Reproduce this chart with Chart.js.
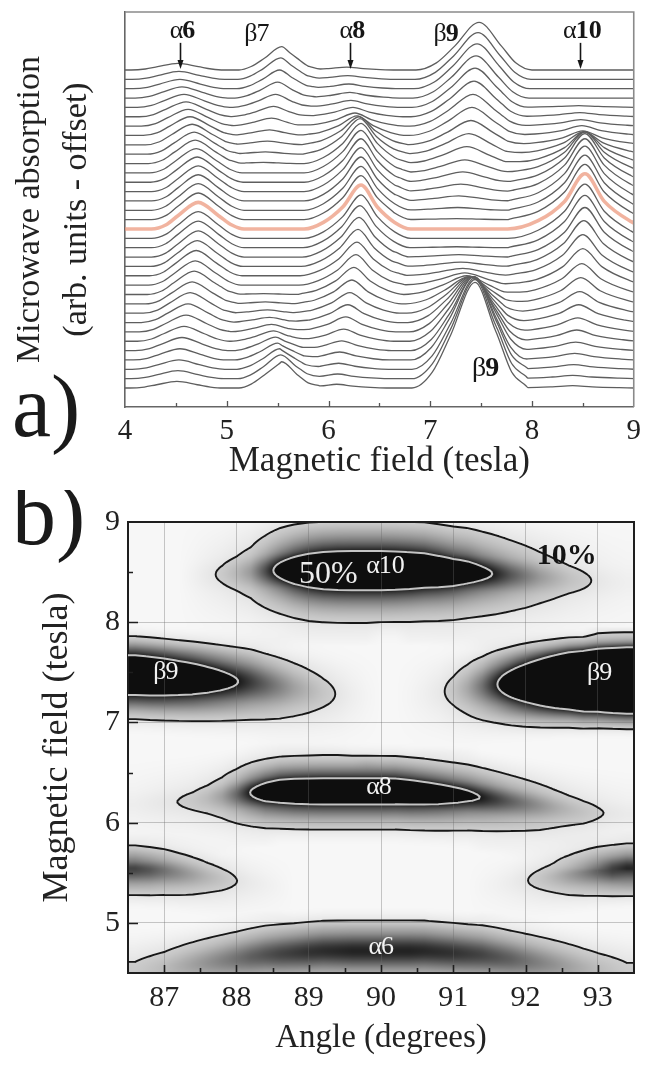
<!DOCTYPE html>
<html>
<head>
<meta charset="utf-8">
<script src="https://cdn.jsdelivr.net/npm/chart.js@4.4.1/dist/chart.umd.min.js"></script>
<style>
  html, body { margin: 0; padding: 0; background: #fff; }
  #page { position: relative; width: 648px; height: 1065px; overflow: hidden; background: #fff; }
  #spectraBox { position: absolute; left: 0; top: 0; width: 648px; height: 490px; }
  #mapBox { position: absolute; left: 0; top: 490px; width: 648px; height: 575px; }
  canvas { display: block; }
</style>
</head>
<body>
<div id="page">
  <div id="spectraBox"><canvas id="spectra" width="648" height="490"></canvas></div>
  <div id="mapBox"><canvas id="map" width="648" height="575"></canvas></div>
</div>
<script>
// ---------------------------------------------------------------------------
// Angular dependence of the microwave absorption spectra.
// One spectrum per sample orientation; each spectrum is described by the
// field position and height of its five resonance lines.
// ---------------------------------------------------------------------------
const SERIF = "'Liberation Serif', 'Times New Roman', serif";

// orientation of each spectrum (degrees), top trace first
const angles = [86.6, 86.8, 87.0, 87.2, 87.4, 87.6, 87.8, 88.0, 88.2, 88.4,
                88.6, 88.8, 89.0, 89.2, 89.4, 89.6, 89.8, 90.0, 90.2, 90.4,
                90.6, 90.8, 91.0, 91.2, 91.4, 91.6, 91.8, 92.0, 92.2, 92.4,
                92.6, 92.8, 93.0, 93.2, 93.4];
const highlightAngle = 90.0;

// alpha-6 line
const alpha6Center = [4.52, 4.53, 4.54, 4.56, 4.58, 4.60, 4.62, 4.64, 4.66, 4.68,
                      4.69, 4.70, 4.71, 4.72, 4.72, 4.72, 4.72, 4.72, 4.72, 4.72,
                      4.72, 4.71, 4.70, 4.69, 4.68, 4.66, 4.64, 4.62, 4.60, 4.58,
                      4.56, 4.54, 4.53, 4.52, 4.51];
const alpha6Height = [0.7, 0.85, 1.0, 1.2, 1.4, 1.6, 1.8, 2.0, 2.2, 2.35,
                      2.5, 2.6, 2.7, 2.75, 2.8, 2.85, 2.85, 2.85, 2.85, 2.85,
                      2.8, 2.75, 2.7, 2.6, 2.5, 2.35, 2.2, 2.0, 1.8, 1.6,
                      1.4, 1.2, 1.0, 0.85, 0.7];

// beta-7 line
const beta7Center = [5.54, 5.53, 5.52, 5.50, 5.48, 5.46, 5.44, 5.42, 5.40, 5.38,
                     5.36, 5.35, 5.35, 5.35, 5.35, 5.35, 5.35, 5.35, 5.35, 5.35,
                     5.35, 5.35, 5.35, 5.35, 5.36, 5.38, 5.40, 5.42, 5.44, 5.46,
                     5.48, 5.50, 5.52, 5.53, 5.54];
const beta7Height = [2.5, 2.3, 2.0, 1.7, 1.4, 1.1, 0.85, 0.6, 0.4, 0.25,
                     0.12, 0, 0, 0, 0, 0, 0, 0, 0, 0,
                     0, 0, 0, 0, 0.1, 0.2, 0.35, 0.55, 0.8, 1.1,
                     1.45, 1.8, 2.2, 2.55, 2.8];

// alpha-8 line
const alpha8Center = [6.18, 6.19, 6.20, 6.21, 6.22, 6.24, 6.26, 6.28, 6.30, 6.31,
                      6.32, 6.32, 6.32, 6.32, 6.32, 6.32, 6.32, 6.32, 6.32, 6.31,
                      6.30, 6.29, 6.28, 6.27, 6.25, 6.23, 6.21, 6.19, 6.17, 6.15,
                      6.13, 6.11, 6.10, 6.09, 6.08];
const alpha8Height = [0.3, 0.4, 0.5, 0.6, 0.75, 1.0, 1.4, 2.1, 3.0, 3.8,
                      4.3, 4.55, 4.65, 4.7, 4.7, 4.7, 4.7, 4.7, 4.65, 4.5,
                      4.25, 3.95, 3.6, 3.25, 2.9, 2.55, 2.2, 1.9, 1.6, 1.3,
                      1.05, 0.85, 0.65, 0.5, 0.4];

// beta-9 line
const beta9Center = [7.48, 7.47, 7.46, 7.45, 7.44, 7.43, 7.42, 7.41, 7.40, 7.38,
                     7.36, 7.34, 7.32, 7.30, 7.28, 7.27, 7.26, 7.25, 7.25, 7.26,
                     7.28, 7.30, 7.32, 7.34, 7.36, 7.38, 7.39, 7.40, 7.41, 7.42,
                     7.43, 7.43, 7.44, 7.44, 7.44];
const beta9Height = [5.1, 5.0, 4.8, 4.5, 4.2, 3.8, 3.4, 3.0, 2.6, 2.2,
                     1.8, 1.4, 1.1, 0.8, 0.55, 0.3, 0.12, 0, 0, 0.1,
                     0.25, 0.45, 0.8, 1.3, 2.0, 2.9, 3.9, 4.9, 5.9, 6.9,
                     7.9, 8.9, 9.8, 10.6, 11.3];

// alpha-10 line
const alpha10Center = [8.42, 8.43, 8.44, 8.45, 8.46, 8.47, 8.48, 8.49, 8.50, 8.51,
                       8.52, 8.52, 8.52, 8.52, 8.52, 8.52, 8.52, 8.52, 8.52, 8.52,
                       8.52, 8.51, 8.50, 8.50, 8.49, 8.48, 8.47, 8.46, 8.45, 8.44,
                       8.43, 8.42, 8.41, 8.40, 8.40];
const alpha10Height = [0, 0, 0, 0, 0.2, 0.45, 0.7, 1.05, 1.5, 2.4,
                       3.4, 4.4, 5.2, 5.65, 5.85, 5.9, 5.9, 5.9, 5.8, 5.6,
                       5.3, 4.9, 4.4, 3.9, 3.3, 2.8, 2.3, 1.9, 1.5, 1.2,
                       0.9, 0.7, 0.5, 0.35, 0.25];

// line shape: distance (T) from the line centre on the low / high field side
// at the foot, the shoulder and half height
const alpha6Width  = { low: [0.46, 0.32, 0.20], high: [0.45, 0.33, 0.20] };
const beta7Width   = { low: [0.42, 0.30, 0.17], high: [0.38, 0.26, 0.15] };
const alpha8Width  = { low: [0.56, 0.37, 0.18], high: [0.49, 0.33, 0.16] };
const beta9Width   = { low: [0.62, 0.42, 0.24], high: [0.52, 0.36, 0.22] };
const alpha10Width = { low: [0.76, 0.46, 0.20], high: [0.64, 0.44, 0.19] };
const shapeLevels  = [0, 0.15, 0.5];   // relative height at foot, shoulder, half height

// axis ticks
const fieldTickLabels = [4, 5, 6, 7, 8, 9];
const angleTickLabels = [87, 88, 89, 90, 91, 92, 93];
const mapFieldTickLabels = [5, 6, 7, 8, 9];
// contour levels of the map (fraction of the strongest line at 90 degrees)
const contourLevels = [0.1, 0.5];

// ---------------------------------------------------------------------------
const resonances = [
  { center: alpha6Center,  height: alpha6Height,  width: alpha6Width },
  { center: beta7Center,   height: beta7Height,   width: beta7Width },
  { center: alpha8Center,  height: alpha8Height,  width: alpha8Width },
  { center: beta9Center,   height: beta9Height,   width: beta9Width },
  { center: alpha10Center, height: alpha10Height, width: alpha10Width }
];

function linePoints(res, k) {
  const c = res.center[k], a = res.height[k];
  if (!(a > 0)) return null;
  const pts = [];
  for (let i = 0; i < 3; i++) pts.push([c - res.width.low[i], a * shapeLevels[i]]);
  pts.push([c, a]);
  for (let i = 2; i >= 0; i--) pts.push([c + res.width.high[i], a * shapeLevels[i]]);
  return pts;
}
function lineValueAt(pts, x) {
  if (x <= pts[0][0] || x >= pts[pts.length - 1][0]) return 0;
  for (let i = 0; i < pts.length - 1; i++) {
    if (x >= pts[i][0] && x <= pts[i + 1][0]) {
      const f = (x - pts[i][0]) / (pts[i + 1][0] - pts[i][0]);
      return pts[i][1] + f * (pts[i + 1][1] - pts[i][1]);
    }
  }
  return 0;
}
// spectrum k as a list of {x: field, y: absorption}
function spectrum(k) {
  const lines = resonances.map(r => linePoints(r, k)).filter(Boolean);
  let xs = [3.8, 9.3];
  lines.forEach(p => p.forEach(q => xs.push(q[0])));
  xs.sort((a, b) => a - b);
  xs = xs.filter((x, i) => i === 0 || x - xs[i - 1] > 1e-6);
  return xs.map(x => ({ x, y: lines.reduce((s, p) => s + lineValueAt(p, x), 0) }));
}
const spectra = angles.map((_, k) => spectrum(k));

// the same monotone cubic that the line elements use, for sampling the map
function monotoneSlopes(pts) {
  const n = pts.length, d = [], m = [];
  for (let i = 0; i < n - 1; i++) d[i] = (pts[i + 1].y - pts[i].y) / (pts[i + 1].x - pts[i].x);
  for (let i = 0; i < n; i++) {
    if (i === 0) m[i] = d[0];
    else if (i === n - 1) m[i] = d[n - 2];
    else m[i] = Math.sign(d[i - 1]) !== Math.sign(d[i]) ? 0 : (d[i - 1] + d[i]) / 2;
  }
  for (let i = 0; i < n - 1; i++) {
    if (Math.abs(d[i]) < 1e-12) { m[i] = 0; m[i + 1] = 0; continue; }
    const a = m[i] / d[i], b = m[i + 1] / d[i], s = a * a + b * b;
    if (s <= 9) continue;
    const t = 3 / Math.sqrt(s);
    m[i] = a * t * d[i]; m[i + 1] = b * t * d[i];
  }
  return m;
}
const slopes = spectra.map(monotoneSlopes);
function spectrumAt(k, x) {
  const p = spectra[k], m = slopes[k];
  let lo = 0, hi = p.length - 1;
  if (x <= p[0].x) return p[0].y;
  if (x >= p[hi].x) return p[hi].y;
  while (hi - lo > 1) { const mid = (lo + hi) >> 1; if (p[mid].x <= x) lo = mid; else hi = mid; }
  const h = p[hi].x - p[lo].x, t = (x - p[lo].x) / h, t2 = t * t, t3 = t2 * t;
  return (2 * t3 - 3 * t2 + 1) * p[lo].y + (t3 - 2 * t2 + t) * h * m[lo] +
         (-2 * t3 + 3 * t2) * p[hi].y + (t3 - t2) * h * m[hi];
}
const refIndex = angles.indexOf(highlightAngle);
const reference = Math.max(...resonances.map(r => r.height[refIndex]));

const isWhole = v => typeof v === 'number' && Math.abs(v - Math.round(v)) < 1e-6;

// ---------------------------------------------------------------------------
// shared plugins
// ---------------------------------------------------------------------------
const innerTicks = {
  id: 'innerTicks',
  afterDraw(chart, args, o) {
    const ctx = chart.ctx, a = chart.chartArea;
    ctx.save();
    ctx.strokeStyle = o.color; ctx.lineWidth = o.width;
    ctx.beginPath();
    const xs = chart.scales.x;
    xs.ticks.forEach(t => {
      if (t.value <= xs.min || t.value >= xs.max) return;
      const p = Math.round(xs.getPixelForValue(t.value)) + 0.5;
      const len = isWhole(t.value) ? o.xMajor : o.xMinor;
      ctx.moveTo(p, a.bottom); ctx.lineTo(p, a.bottom - len);
    });
    if (o.yMajor) {
      const ys = chart.scales.y;
      ys.ticks.forEach(t => {
        if (t.value <= ys.min || t.value >= ys.max) return;
        const p = Math.round(ys.getPixelForValue(t.value)) + 0.5;
        const len = isWhole(t.value) ? o.yMajor : o.yMinor;
        ctx.moveTo(a.left, p); ctx.lineTo(a.left + len, p);
      });
    }
    ctx.stroke();
    // top and right edges of the frame
    ctx.strokeStyle = o.frameColor; ctx.lineWidth = o.frameWidth;
    ctx.beginPath();
    ctx.moveTo(a.left, a.top); ctx.lineTo(a.right, a.top); ctx.lineTo(a.right, a.bottom);
    ctx.stroke();
    // panel letter
    ctx.fillStyle = '#1a1a1a';
    ctx.font = o.panelFont;
    ctx.textBaseline = 'alphabetic';
    ctx.textAlign = 'left';
    ctx.fillText(o.panel, o.panelX, o.panelY);
    ctx.restore();
  }
};

// label made of a greek letter and a (bold) index
function drawLineLabel(ctx, greek, index, x, y, size, boldIndex, color) {
  ctx.font = `${size}px ${SERIF}`;
  const w1 = ctx.measureText(greek).width;
  ctx.font = `${boldIndex ? 'bold ' : ''}${size}px ${SERIF}`;
  const w2 = ctx.measureText(index).width;
  const x0 = x - (w1 + w2) / 2;
  ctx.fillStyle = color;
  ctx.textAlign = 'left';
  ctx.textBaseline = 'middle';
  ctx.font = `${size}px ${SERIF}`;
  ctx.fillText(greek, x0, y);
  ctx.font = `${boldIndex ? 'bold ' : ''}${size}px ${SERIF}`;
  ctx.fillText(index, x0 + w1 - 1, y);
}

// ---------------------------------------------------------------------------
// (a) stacked spectra
// ---------------------------------------------------------------------------
const traceStep = 1;
const spectraSets = spectra.map((pts, k) => {
  const shift = (angles.length - 1 - k) * traceStep;
  const hi = angles[k] === highlightAngle;
  return {
    label: angles[k] + '°',
    data: pts.map(p => ({ x: p.x, y: p.y + shift })),
    borderColor: hi ? 'rgba(236,150,122,0.72)' : '#5e5e5e',
    borderWidth: hi ? 3.6 : 1.3,
    order: hi ? -1 : 0,
    pointRadius: 0,
    cubicInterpolationMode: 'monotone',
    fill: false
  };
});

// field markers above the top trace: [greek, index, field, arrow]
const spectraMarks = [
  ['α', '6', 4.57, true],
  ['β', '7', 5.30, false],
  ['α', '8', 6.24, true],
  ['β', '9', 7.16, false],
  ['α', '10', 8.50, true]
];
const spectraNotes = {
  id: 'spectraNotes',
  afterDraw(chart) {
    const ctx = chart.ctx, xs = chart.scales.x, ys = chart.scales.y;
    ctx.save();
    const topY = ys.getPixelForValue(38.1);
    spectraMarks.forEach(([g, i, f, arrow]) => {
      drawLineLabel(ctx, g, i, xs.getPixelForValue(f), topY + (g === 'β' ? 3 : 0), 26, g === 'α' || i === '9', '#161616');
      if (arrow) {
        const x = Math.round(xs.getPixelForValue(f - 0.03)) + 0.5;
        const y0 = ys.getPixelForValue(36.9), y1 = ys.getPixelForValue(34.1);
        ctx.strokeStyle = '#161616'; ctx.lineWidth = 1.6;
        ctx.beginPath(); ctx.moveTo(x, y0); ctx.lineTo(x, y1 - 7); ctx.stroke();
        ctx.fillStyle = '#161616';
        ctx.beginPath(); ctx.moveTo(x - 3, y1 - 9); ctx.lineTo(x + 3, y1 - 9); ctx.lineTo(x, y1); ctx.closePath(); ctx.fill();
      }
    });
    drawLineLabel(ctx, 'β', '9', xs.getPixelForValue(7.55), ys.getPixelForValue(2.1), 28, true, '#161616');
    ctx.restore();
  }
};

new Chart(document.getElementById('spectra'), {
  type: 'line',
  data: { datasets: spectraSets },
  options: {
    responsive: false,
    animation: false,
    devicePixelRatio: 1,
    layout: { padding: { top: 12, right: 13, left: 0, bottom: 0 } },
    plugins: {
      legend: { display: false },
      tooltip: { enabled: false },
      innerTicks: { color: '#555', width: 1.3, xMajor: 6, xMinor: 4, yMajor: 0,
                    frameColor: '#8a8a8a', frameWidth: 1.6,
                    panel: 'a)', panelX: 12, panelY: 436, panelFont: `88px ${SERIF}` }
    },
    scales: {
      x: {
        type: 'linear', min: 4, max: 9,
        afterFit: s => { s.height = 83; },
        grid: { display: false, drawTicks: false },
        border: { display: true, color: '#666', width: 1.6 },
        ticks: {
          stepSize: 0.5, autoSkip: false, maxRotation: 0, padding: 7, color: '#222',
          font: { family: SERIF, size: 29 },
          callback: v => fieldTickLabels.includes(v) ? String(v) : ''
        },
        title: { display: true, text: 'Magnetic field (tesla)', color: '#222',
                 font: { family: SERIF, size: 35 }, padding: { top: 0, bottom: 7 } }
      },
      y: {
        type: 'linear', min: -2.03, max: 40.2,
        afterFit: s => { s.width = 125; },
        grid: { display: false, drawTicks: false },
        border: { display: true, color: '#666', width: 1.6 },
        ticks: { display: false },
        title: { display: true, text: ['Microwave absorption', '(arb. units - offset)'], color: '#222',
                 font: { family: SERIF, size: 34, lineHeight: 1.4 }, padding: { top: 6, bottom: 0 } }
      }
    }
  },
  plugins: [innerTicks, spectraNotes]
});

// ---------------------------------------------------------------------------
// (b) absorption map over angle and field, built from the same spectra
// ---------------------------------------------------------------------------
const fieldStep = 0.02;
function columnValues(field) {
  return angles.map((_, k) => spectrumAt(k, field) / reference);
}
function shade(v) {
  if (v >= contourLevels[1]) return 14;
  if (v >= contourLevels[0]) {
    const t = (v - contourLevels[0]) / (contourLevels[1] - contourLevels[0]);
    return Math.round(205 - 180 * Math.pow(t, 1.3));
  }
  return Math.round(247 - 190 * Math.max(0, v));
}

function contourSegments(gx, gy, grid, level) {
  const segs = [];
  const lerp = (a, b, va, vb) => a + (level - va) / (vb - va) * (b - a);
  for (let i = 0; i < gx.length - 1; i++) {
    for (let j = 0; j < gy.length - 1; j++) {
      const v00 = grid[i][j], v10 = grid[i + 1][j], v11 = grid[i + 1][j + 1], v01 = grid[i][j + 1];
      const c = (v00 >= level ? 1 : 0) | (v10 >= level ? 2 : 0) | (v11 >= level ? 4 : 0) | (v01 >= level ? 8 : 0);
      if (c === 0 || c === 15) continue;
      const e = [
        () => [lerp(gx[i], gx[i + 1], v00, v10), gy[j]],
        () => [gx[i + 1], lerp(gy[j], gy[j + 1], v10, v11)],
        () => [lerp(gx[i], gx[i + 1], v01, v11), gy[j + 1]],
        () => [gx[i], lerp(gy[j], gy[j + 1], v00, v01)]
      ];
      const mid = (v00 + v10 + v11 + v01) / 4 >= level;
      const table = {
        1: [[3, 0]], 2: [[0, 1]], 3: [[3, 1]], 4: [[1, 2]],
        5: mid ? [[3, 2], [0, 1]] : [[3, 0], [1, 2]],
        6: [[0, 2]], 7: [[3, 2]], 8: [[2, 3]], 9: [[0, 2]],
        10: mid ? [[0, 3], [1, 2]] : [[0, 1], [2, 3]],
        11: [[1, 2]], 12: [[1, 3]], 13: [[0, 1]], 14: [[0, 3]]
      };
      table[c].forEach(([a, b]) => segs.push([e[a](), e[b]()]));
    }
  }
  return segs;
}

const mapLayer = {
  id: 'mapLayer',
  beforeDraw(chart) {
    const ctx = chart.ctx, a = chart.chartArea, xs = chart.scales.x, ys = chart.scales.y;
    const w = Math.round(a.right - a.left), h = Math.round(a.bottom - a.top);
    const off = document.createElement('canvas');
    off.width = w; off.height = h;
    const octx = off.getContext('2d');
    const img = octx.createImageData(w, h);
    const step = angles[1] - angles[0];
    const colPos = [];
    for (let px = 0; px < w; px++) {
      const ang = xs.getValueForPixel(a.left + px + 0.5);
      let u = (ang - angles[0]) / step;
      u = Math.max(0, Math.min(angles.length - 1, u));
      const i0 = Math.min(angles.length - 2, Math.floor(u));
      colPos.push([i0, u - i0]);
    }
    for (let py = 0; py < h; py++) {
      const field = ys.getValueForPixel(a.top + py + 0.5);
      const col = columnValues(field);
      for (let px = 0; px < w; px++) {
        const [i0, f] = colPos[px];
        const v = col[i0] * (1 - f) + col[i0 + 1] * f;
        const g = shade(v);
        const o = (py * w + px) * 4;
        img.data[o] = g; img.data[o + 1] = g; img.data[o + 2] = g; img.data[o + 3] = 255;
      }
    }
    octx.putImageData(img, 0, 0);
    ctx.drawImage(off, a.left, a.top);
  },
  afterDraw(chart) {
    const ctx = chart.ctx, a = chart.chartArea, xs = chart.scales.x, ys = chart.scales.y;
    const half = (angles[1] - angles[0]) / 2;
    const gx = [angles[0] - half, ...angles, angles[angles.length - 1] + half];
    const gy = [];
    for (let f = ys.min; f <= ys.max + 1e-9; f += fieldStep) gy.push(+f.toFixed(4));
    const rows = gy.map(columnValues);
    const grid = gx.map((_, i) => {
      const k = Math.max(0, Math.min(angles.length - 1, i - 1));
      return rows.map(r => r[k]);
    });
    ctx.save();
    ctx.beginPath(); ctx.rect(a.left, a.top, a.right - a.left, a.bottom - a.top); ctx.clip();
    ctx.lineJoin = 'round'; ctx.lineCap = 'round';
    [[contourLevels[1], '#c4c4c4', 2.0], [contourLevels[0], '#171717', 1.9]].forEach(([lvl, color, lw]) => {
      const segs = contourSegments(gx, gy, grid, lvl);
      ctx.strokeStyle = color; ctx.lineWidth = lw;
      ctx.beginPath();
      segs.forEach(([p, q]) => {
        ctx.moveTo(xs.getPixelForValue(p[0]), ys.getPixelForValue(p[1]));
        ctx.lineTo(xs.getPixelForValue(q[0]), ys.getPixelForValue(q[1]));
      });
      ctx.stroke();
    });
    ctx.restore();

    // labels inside the map
    ctx.save();
    const P = (ang, f) => [xs.getPixelForValue(ang), ys.getPixelForValue(f)];
    ctx.textAlign = 'center'; ctx.textBaseline = 'middle';
    ctx.font = `32px ${SERIF}`; ctx.fillStyle = '#ececec';
    let [x, y] = P(89.27, 8.48); ctx.fillText('50%', x, y);
    ctx.font = `bold 30px ${SERIF}`; ctx.fillStyle = '#141414';
    [x, y] = P(92.57, 8.66); ctx.fillText('10%', x, y);
    [x, y] = P(90.07, 8.56); drawLineLabel(ctx, 'α', '10', x, y, 26, false, '#f2f2f2');
    [x, y] = P(87.03, 7.50); drawLineLabel(ctx, 'β', '9', x, y, 26, false, '#f2f2f2');
    [x, y] = P(93.03, 7.49); drawLineLabel(ctx, 'β', '9', x, y, 26, false, '#f2f2f2');
    [x, y] = P(89.98, 6.35); drawLineLabel(ctx, 'α', '8', x, y, 26, false, '#f2f2f2');
    [x, y] = P(90.01, 4.76); drawLineLabel(ctx, 'α', '6', x, y, 26, false, '#f2f2f2');
    ctx.restore();
  }
};

const gridColor = c => (c.tick && isWhole(c.tick.value)) ? 'rgba(105,105,105,0.36)' : 'rgba(0,0,0,0)';

new Chart(document.getElementById('map'), {
  type: 'scatter',
  data: { datasets: [] },
  options: {
    responsive: false,
    animation: false,
    devicePixelRatio: 1,
    layout: { padding: { top: 32, right: 14, left: 0, bottom: 0 } },
    plugins: {
      legend: { display: false },
      tooltip: { enabled: false },
      innerTicks: { color: '#1e1e1e', width: 1.6, xMajor: 8, xMinor: 5, yMajor: 10, yMinor: 5,
                    frameColor: '#1e1e1e', frameWidth: 2,
                    panel: 'b)', panelX: 12, panelY: 54, panelFont: `88px ${SERIF}` }
    },
    scales: {
      x: {
        type: 'linear', min: 86.5, max: 93.5,
        afterFit: s => { s.height = 92; },
        grid: { drawTicks: false, color: gridColor, lineWidth: 1 },
        border: { display: true, color: '#1e1e1e', width: 2 },
        ticks: {
          stepSize: 0.5, autoSkip: false, maxRotation: 0, padding: 7, color: '#222',
          font: { family: SERIF, size: 30 },
          callback: v => angleTickLabels.includes(v) ? String(v) : ''
        },
        title: { display: true, text: 'Angle (degrees)', color: '#222',
                 font: { family: SERIF, size: 33 }, padding: { top: 0, bottom: 7 } }
      },
      y: {
        type: 'linear', min: 4.5, max: 9,
        afterFit: s => { s.width = 128; },
        grid: { drawTicks: false, color: gridColor, lineWidth: 1 },
        border: { display: true, color: '#1e1e1e', width: 2 },
        ticks: {
          stepSize: 0.5, autoSkip: false, padding: 8, color: '#222',
          font: { family: SERIF, size: 30 },
          callback: v => mapFieldTickLabels.includes(v) ? String(v) : ''
        },
        title: { display: true, text: 'Magnetic field (tesla)', color: '#222',
                 font: { family: SERIF, size: 36 }, padding: { top: 36, bottom: 0 } }
      }
    }
  },
  plugins: [mapLayer, innerTicks]
});
</script>
</body>
</html>
